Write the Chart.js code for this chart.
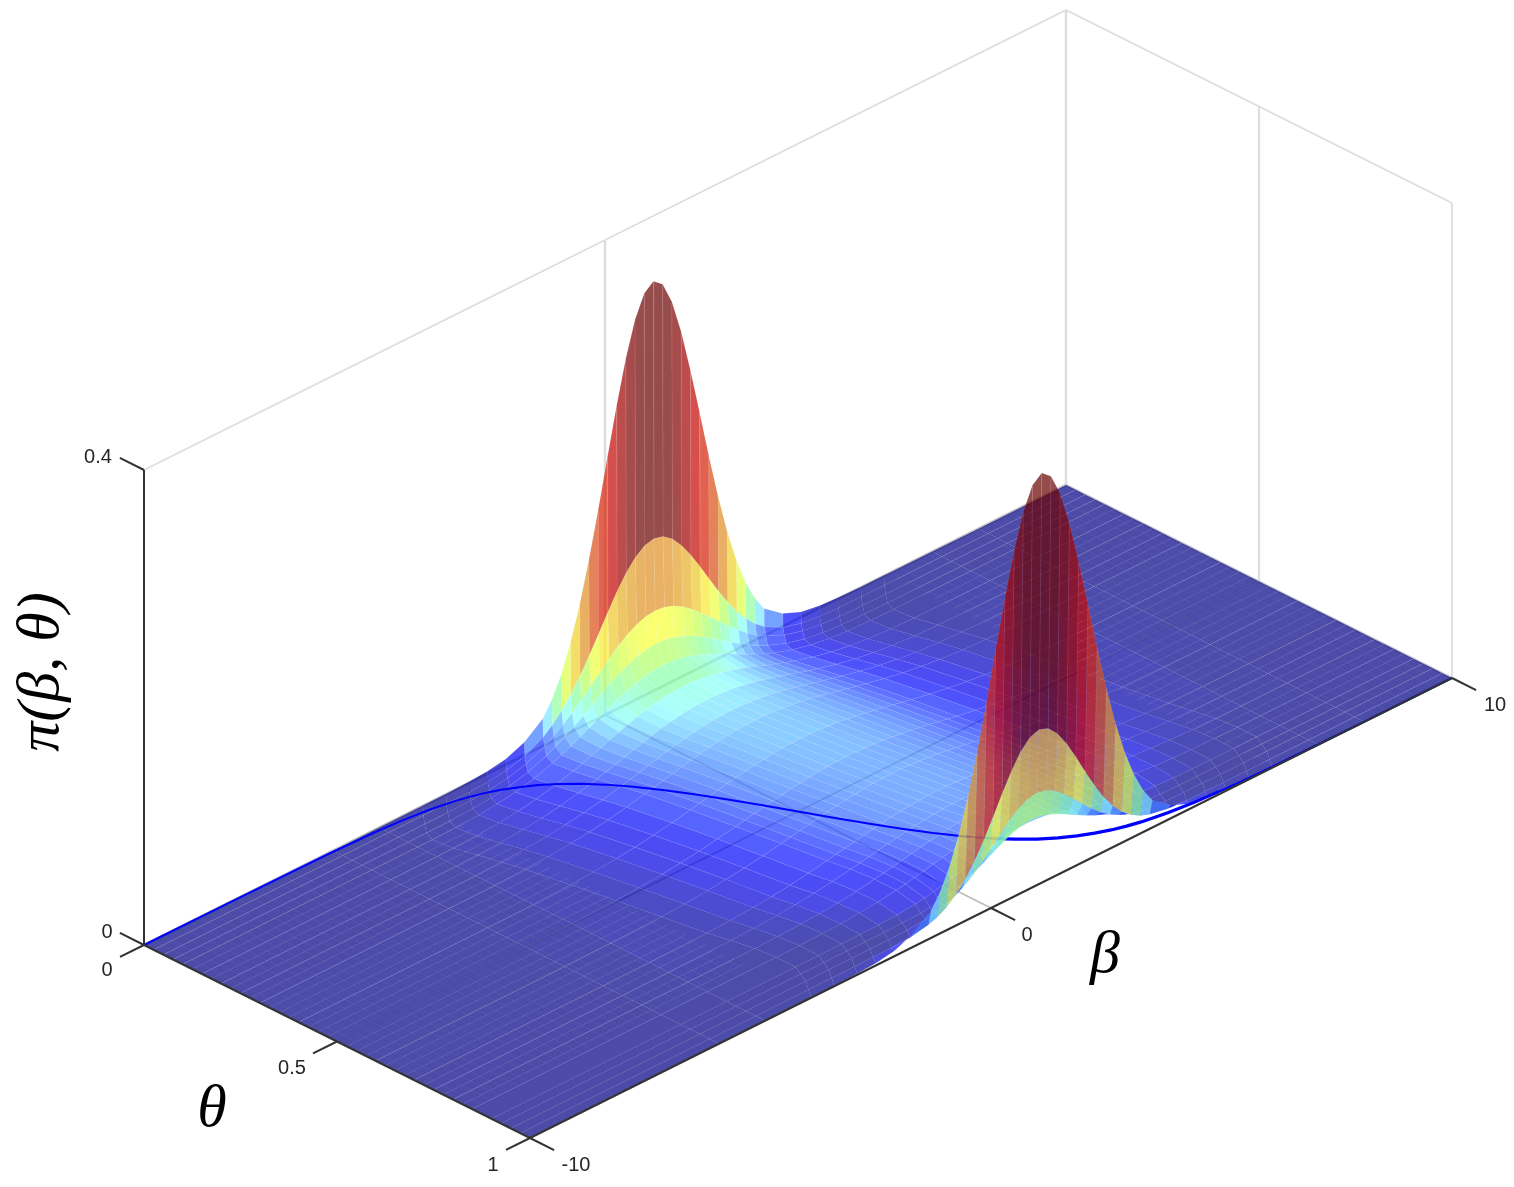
<!DOCTYPE html>
<html>
<head>
<meta charset="utf-8">
<style>html,body{margin:0;padding:0;background:#fff}canvas{display:block}</style>
<script src="https://cdn.jsdelivr.net/npm/chart.js@4/dist/chart.umd.min.js"></script>
</head>
<body>
<canvas id="c" width="1514" height="1187"></canvas>
<script>
// ---- values ----
const betaNodes = [-10,-5.9,-4.9,-3.9,-3.4,-2.9,-2.5,-2.1,-1.7,-1.3,-1.1,-0.9,-0.7,-0.5,-0.3,-0.1,0.1,0.3,0.5,0.7,0.9,1.1,1.3,1.5,1.7,1.9,2.1,2.3,2.5,2.7,2.9,3.1,3.3,3.5,3.9,4.3,4.7,5.1,5.6,6.1,7.1,8.1,10];
const thetaNodes = [0,0.025,0.05,0.075,0.1,0.15,0.2,0.25,0.3,0.4,0.5,0.6,0.7,0.75,0.8,0.85,0.9,0.925,0.95,0.975,1];
// where the ridge sits along beta for each theta
const ridgeBeta = [1.05,0.85,0.67,0.5,0.42,0.45,0.55,0.65,0.75,0.9,1.05,1.2,1.35,1.45,1.55,1.6,1.6,1.5,1.4,1.25,1.1];
// density along beta, from the ridge outwards, for one theta
const ridge000 = [.345,.3385,.320,.291,.255,.2155,.175,.137,.1033,.075,.0524,.0353,.0229,.011,.0045,.002,.001,.0004,.0002,.0001,0,0];
const ridge025 = [.136,.134,.128,.1187,.1068,.0932,.0789,.0648,.0517,.04,.03,.0218,.0154,.007,.0028,.001,.0003,.0001,.0001,0,0,0];
const ridge050 = [.083,.082,.0792,.0746,.0687,.0617,.0542,.0465,.0389,.0318,.0254,.0198,.0151,.0082,.004,.0018,.0007,.0002,.0001,0,0,0];
const ridge075 = [.063,.0624,.0605,.0574,.0535,.0488,.0437,.0382,.0327,.0276,.0227,.0183,.0145,.0086,.0046,.0023,.001,.0003,.0001,0,0,0];
const ridge100 = [.05,.0496,.0483,.0461,.0434,.04,.0363,.0323,.0283,.0243,.0206,.017,.0139,.0088,.0051,.0028,.0014,.0006,.0002,0,0,0];
const ridge150 = [.04,.0397,.0389,.0376,.0358,.0337,.0312,.0285,.0257,.0228,.02,.0173,.0148,.0103,.0068,.0042,.0025,.0012,.0005,.0001,0,0];
const ridge200 = [.035,.0348,.0342,.0331,.0317,.03,.028,.0259,.0236,.0212,.0189,.0166,.0144,.0104,.0072,.0047,.003,.0015,.0007,.0001,0,0];
const ridge250 = [.032,.0318,.0313,.0304,.0293,.0279,.0262,.0244,.0224,.0204,.0184,.0164,.0144,.0108,.0078,.0053,.0035,.0019,.001,.0002,0,0];
const ridge300 = [.03,.0298,.0294,.0286,.0276,.0263,.0248,.0232,.0214,.0196,.0177,.0159,.0141,.0107,.0078,.0055,.0037,.0021,.0011,.0003,0,0];
const ridge400 = [.028,.0279,.0275,.0268,.0259,.0249,.0236,.0222,.0206,.019,.0174,.0157,.0141,.011,.0083,.006,.0042,.0025,.0014,.0004,.0001,0];
const ridge500 = [.026,.0258,.0254,.0249,.0241,.0231,.022,.0207,.0194,.018,.0165,.015,.0134,.0107,.0082,.006,.0042,.0026,.0015,.0005,.0001,0];
const ridge600 = [.025,.0249,.0246,.0239,.0231,.0222,.0211,.0198,.0184,.017,.0155,.014,.0126,.0098,.0074,.0054,.0038,.0022,.0013,.0004,.0001,0];
const ridge700 = [.024,.0238,.0235,.0229,.0221,.021,.0198,.0186,.0171,.0157,.0142,.0127,.0113,.0086,.0062,.0044,.003,.0017,.0009,.0002,0,0];
const ridge750 = [.023,.0229,.0225,.0219,.021,.02,.0188,.0175,.0161,.0147,.0132,.0118,.0104,.0078,.0056,.0038,.0025,.0014,.0007,.0002,0,0];
const ridge800 = [.022,.0218,.0214,.0207,.0197,.0185,.0172,.0157,.0141,.0126,.011,.0095,.0081,.0057,.0037,.0023,.0014,.0007,.0003,.0001,0,0];
const ridge850 = [.022,.0218,.0212,.0203,.0191,.0176,.016,.0142,.0125,.0107,.009,.0075,.0061,.0039,.0023,.0012,.0006,.0002,.0001,0,0,0];
const ridge900 = [.024,.0236,.0226,.021,.0188,.0164,.0139,.0114,.0091,.0071,.0053,.0038,.0027,.0012,.0005,.0002,.0001,0,0,0,0,0];
const ridge925 = [.033,.0322,.0299,.0264,.0222,.0178,.0136,.0098,.0068,.0045,.0028,.0017,.0009,.0003,.0001,0,0,0,0,0,0,0];
const ridge950 = [.0615,.06,.0557,.0493,.0414,.0332,.0253,.0183,.0127,.0083,.0052,.0031,.0018,.0005,.0001,0,0,0,0,0,0,0];
const ridge975 = [.122,.1192,.111,.0986,.0836,.0676,.0521,.0383,.0269,.018,.0115,.007,.0041,.0012,.0003,.0001,0,0,0,0,0,0];
const thetaRidges = [ridge000,ridge025,ridge050,ridge075,ridge100,ridge150,ridge200,ridge250,ridge300,ridge400,ridge500,ridge600,ridge700,ridge750,ridge800,ridge850,ridge900,ridge925,ridge950,ridge975,ridge000];
// the curve drawn on the floor
const curveBeta  = [-10,-8,-6,-5,-4.5,-4,-3.75,-3.5,-3.25,-3,-2.75,-2.5,-2.25,-2,-1.75,-1.5,-1.25,-1,-0.75,-0.5,-0.25,0,0.25,0.5,0.75,1,1.25,1.5,1.75,2,2.25,2.5,2.75,3,3.25,3.5,3.75,4,4.5,5,5.5,6,7,8,10];
const curveTheta = [0,.0003,.0025,.0067,.011,.018,.023,.029,.037,.047,.06,.076,.095,.119,.148,.182,.223,.269,.321,.378,.438,.5,.562,.622,.679,.731,.777,.818,.852,.881,.905,.924,.94,.953,.963,.971,.977,.982,.989,.993,.996,.9975,.999,.9997,1];
const betaTicks  = [-10,0,10];
const thetaTicks = [0,0.5,1];
const zTicks     = [0,0.4];
const betaTickLabels  = ['-10','0','10'];
const thetaTickLabels = ['0','0.5','1'];
const zTickLabels     = ['0','0.4'];

// ---- view of the 3-D box on the page plane ----
function P(b,t,z){
  const u=(b+10)/20;
  return {x:144+922*u+386*t, y:945-460*u+193*t-1187.5*(z||0)};
}
const ALPHA=0.7;
const cmap=[[0,76,76,168],[.002,73,73,190],[.006,70,70,235],[.012,80,85,255],[.02,110,145,255],[.03,140,205,255],[.038,170,255,255],[.05,170,255,195],[.065,205,255,140],[.085,255,255,110],[.11,240,210,105],[.14,232,172,100],[.18,228,125,88],[.22,225,95,80],[.265,210,75,75],[.305,178,75,75],[.335,155,74,74],[.35,150,74,74]];
function colour(z){
  let i=0; while(i<cmap.length-2&&z>cmap[i+1][0])i++;
  const a=cmap[i],b=cmap[i+1],f=Math.min(1,Math.max(0,(z-a[0])/(b[0]-a[0])));
  const c=[1,2,3].map(k=>{const d=a[k]+(b[k]-a[k])*f;return Math.max(0,Math.round((d-255*(1-ALPHA))/ALPHA));});
  return `rgba(${c[0]},${c[1]},${c[2]},${ALPHA})`;
}
const zGrid=thetaRidges.map(h=>[...h].reverse().concat(h.slice(1)));
function nodeBeta(i,j){return Math.abs(betaNodes[i]-1.1)>5.05?betaNodes[i]:betaNodes[i]+ridgeBeta[j]-1.1;}

const seq=[];
function seg(points,color,width){
  seq.push({type:'line',data:points,borderColor:color,borderWidth:width,pointRadius:0,pointHoverRadius:0,fill:false,tension:0,borderCapStyle:'butt'});
}
// walls
const wall='#dddddd';
seg([P(-10,0,.4),P(10,0,.4)],wall,1.8);
seg([P(10,0,.4),P(10,1,.4)],wall,1.8);
seg([P(0,0,0),P(0,0,.4)],wall,2.4);
seg([P(10,0,0),P(10,0,.4)],wall,2.4);
seg([P(10,.5,0),P(10,.5,.4)],wall,2.2);
seg([P(10,1,0),P(10,1,.4)],wall,1.8);
seg([P(-10,0,0),P(10,0,0)],'#c4c4c4',2.6);
seg([P(10,0,0),P(10,1,0)],'#c4c4c4',2.2);
seg([P(0,0,0),P(0,1,0)],'#bdbdbd',1.8);
seg([P(-10,.5,0),P(10,.5,0)],'#bdbdbd',1.8);

// surface cells, far to near
const cells=[];
for(let j=0;j<thetaNodes.length-1;j++)for(let i=0;i<betaNodes.length-1;i++){
  const zs=[zGrid[j][i],zGrid[j][i+1],zGrid[j+1][i+1],zGrid[j+1][i]];
  const bm=(betaNodes[i]+betaNodes[i+1])/2, tm=(thetaNodes[j]+thetaNodes[j+1])/2;
  cells.push({i,j,zs,depth:P(bm,tm,0).y,front:tm>=.85&&bm<2});
}
cells.sort((a,b)=>a.depth-b.depth);
function pushCell(c){
  const {i,j,zs}=c;
  const pts=[P(nodeBeta(i,j),thetaNodes[j],zs[0]),P(nodeBeta(i+1,j),thetaNodes[j],zs[1]),P(nodeBeta(i+1,j+1),thetaNodes[j+1],zs[2]),P(nodeBeta(i,j+1),thetaNodes[j+1],zs[3])];
  pts.push(pts[0]);
  const top=Math.max(...zs);
  seq.push({type:'line',data:pts,fill:'shape',backgroundColor:colour(top),borderColor:'rgba(255,255,255,0.11)',borderWidth:top<.006?0:0.6,pointRadius:0,pointHoverRadius:0,tension:0});
}
cells.filter(c=>!c.front).forEach(pushCell);
// fine mesh on the flat floor
for(let k=0;k<=40;k++){
  const t=k/40;
  seg([P(-10,t,0),P(-3.9,t,0)],'rgba(255,255,255,0.15)',0.7);
  seg([P(6.1,t,0),P(10,t,0)],'rgba(255,255,255,0.15)',0.7);
}
for(let k=0;k<=100;k++){
  const b=-10+k*0.2;
  if(b<=-3.9||b>=6.1) seg([P(b,0,0),P(b,1,0)],'rgba(255,255,255,0.07)',0.6);
}
// floor curve
const curvePts=curveBeta.map((b,i)=>P(b,curveTheta[i],0));
const a1=curveBeta.indexOf(1.5), a2=curveBeta.indexOf(5);
seg(curvePts.slice(0,a1+1),'#0000ff',2);
seg(curvePts.slice(a1,a2+1),'#0000ff',3.2);
seg(curvePts.slice(a2),'#0000ff',2.2);
cells.filter(c=>c.front).forEach(pushCell);

// axes
const ax='#333333';
seg([P(-10,0,0),P(-10,0,.4)],ax,2);
seg([P(-10,0,0),P(-10,1,0)],ax,2);
seg([P(-10,1,0),P(10,1,0)],ax,2);
const tb=0.52, tt=0.0625;
zTicks.forEach(z=>seg([P(-10,0,z),P(-10,-tt,z)],ax,2));
thetaTicks.forEach(t=>seg([P(-10,t,0),P(-10-tb,t,0)],ax,2));
betaTicks.forEach(b=>seg([P(b,1,0),P(b,1+tt,0)],ax,2));

const n=seq.length;
seq.forEach((d,i)=>{d.order=n-i;});

const textPlugin={
  id:'labels3d',
  afterDraw(chart){
    const {ctx,scales:{x,y}}=chart;
    const put=(s,p,font,col)=>{ctx.font=font;ctx.fillStyle=col||'#262626';ctx.textAlign='center';ctx.textBaseline='middle';ctx.fillText(s,x.getPixelForValue(p.x),y.getPixelForValue(p.y));};
    const f='20px "Liberation Sans"';
    ctx.save();
    zTicks.forEach((z,i)=>{const p=P(-10,0,z);put(zTickLabels[i],{x:p.x-(z?46:37),y:p.y-13},f);});
    thetaTicks.forEach((t,i)=>{const p=P(-10,t,0);put(thetaTickLabels[i],{x:p.x-(t===.5?45:37),y:p.y+(t===1?27:t===0?25:27)},f);});
    betaTicks.forEach((b,i)=>{const p=P(b,1,0);put(betaTickLabels[i],{x:p.x+(b===-10?46:b===0?36:43),y:p.y+27},f);});
    const m='italic 60px "Liberation Serif"';
    put('β',{x:1105,y:956},m,'#000');
    put('θ',{x:212,y:1110},m,'#000');
    ctx.translate(x.getPixelForValue(42),y.getPixelForValue(672));
    ctx.rotate(-Math.PI/2);
    ctx.font='italic 60px "Liberation Serif"';ctx.fillStyle='#000';ctx.textAlign='center';ctx.textBaseline='middle';
    ctx.fillText('π(β, θ)',0,0);
    ctx.restore();
  }
};

new Chart(document.getElementById('c'),{
  type:'line',
  data:{datasets:seq},
  options:{
    responsive:false,maintainAspectRatio:false,animation:false,
    layout:{padding:0},
    plugins:{legend:{display:false},tooltip:{enabled:false},title:{display:false}},
    events:[],
    scales:{
      x:{type:'linear',min:0,max:1514,display:false},
      y:{type:'linear',min:0,max:1187,reverse:true,display:false}
    }
  },
  plugins:[textPlugin]
});
</script>
</body>
</html>
